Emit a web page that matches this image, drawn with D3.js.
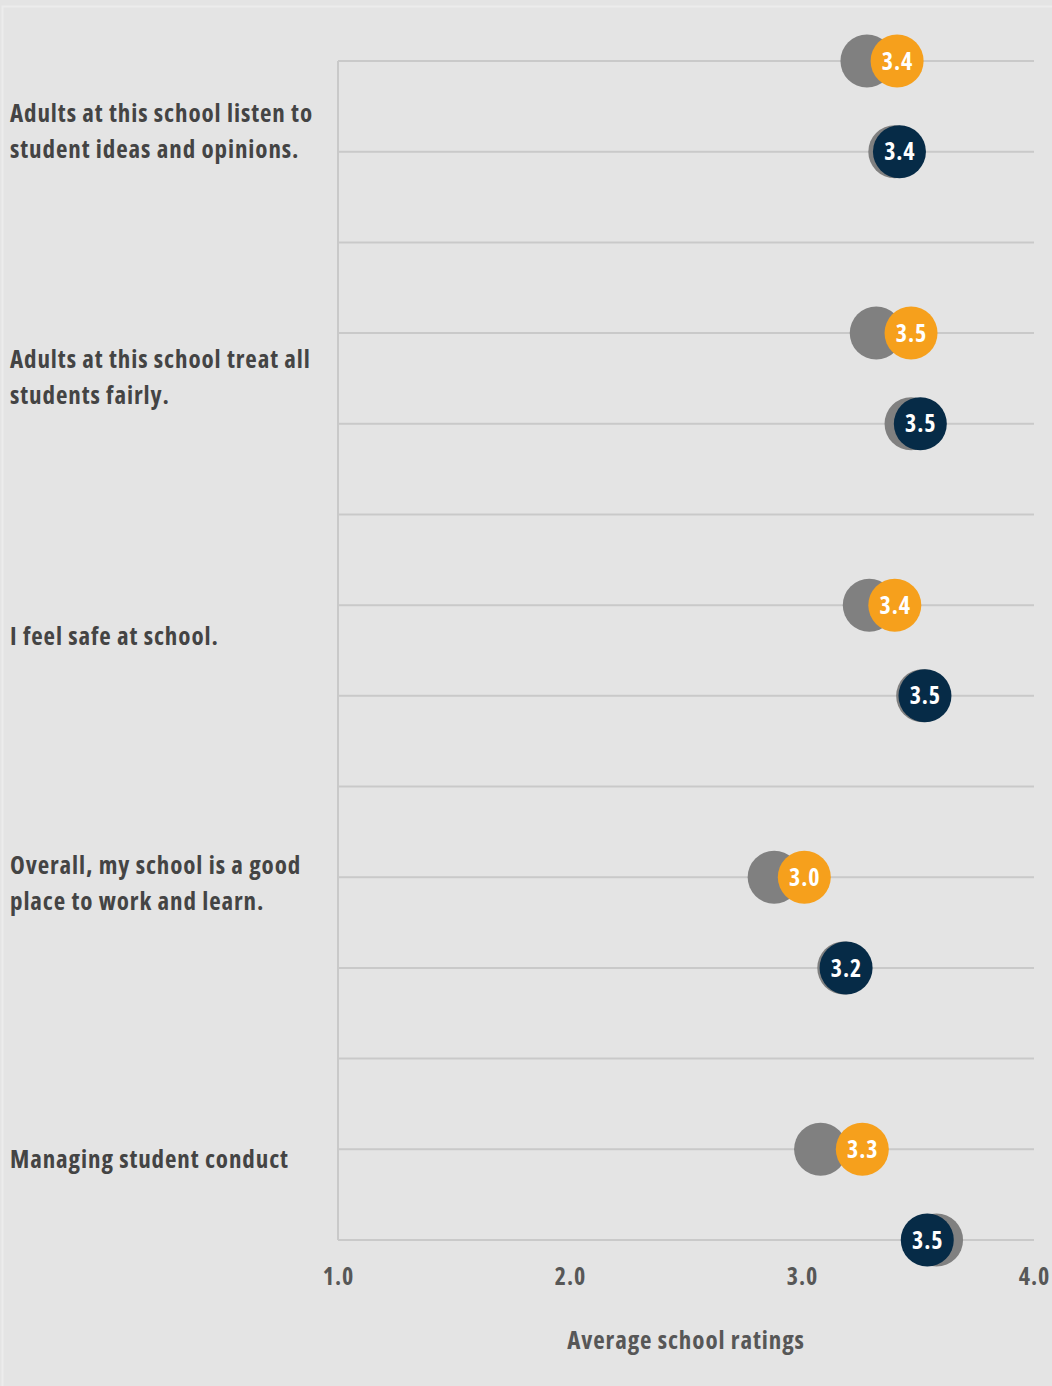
<!DOCTYPE html>
<html><head><meta charset="utf-8">
<script src="https://cdn.jsdelivr.net/npm/d3@7"></script>
<style>
html,body{margin:0;padding:0;background:#e4e4e4;}
svg{display:block;}
text{font-family:"Open Sans","DejaVu Sans Condensed",sans-serif;font-weight:700;font-stretch:75%;letter-spacing:0.9px;}
</style></head>
<body>
<svg id="chart" width="1052" height="1386"></svg>
<script>
const categories = [
  ["Adults at this school listen to", "student ideas and opinions."],
  ["Adults at this school treat all", "students fairly."],
  ["I feel safe at school."],
  ["Overall, my school is a good", "place to work and learn."],
  ["Managing student conduct"]
];
// orange row: value and its gray comparison
const orangeValues = [3.41, 3.47, 3.40, 3.01, 3.26];
const orangeGray   = [3.28, 3.32, 3.29, 2.88, 3.08];
const orangeLabels = ["3.4", "3.5", "3.4", "3.0", "3.3"];
// navy row: value and its gray comparison
const navyValues = [3.42, 3.51, 3.53, 3.19, 3.54];
const navyGray   = [3.40, 3.47, 3.52, 3.18, 3.58];
const navyLabels = ["3.4", "3.5", "3.5", "3.2", "3.5"];
const tickValues = [1, 2, 3, 4];
const tickLabels = ["1.0", "2.0", "3.0", "4.0"];
const axisTitle = "Average school ratings";

const svg = d3.select("#chart");
const W = 1052, H = 1386;
svg.append("rect").attr("x",0).attr("y",0).attr("width",W).attr("height",H).attr("fill","#e4e4e4");
svg.append("rect").attr("x",2.5).attr("y",6.5).attr("width",W).attr("height",H).attr("fill","none").attr("stroke","#ececec").attr("stroke-width",2);

const x = d3.scaleLinear().domain([1,4]).range([338,1034]);
const nRows = categories.length*3 - 1;
const y = d3.scalePoint().domain(d3.range(nRows)).range([61,1240]);

const COL_OR = "#f6a01c", COL_NV = "#062b47", COL_GR = "#808080";

// gridlines
svg.append("g").selectAll("line").data(d3.range(nRows)).join("line")
  .attr("x1", x(1)).attr("x2", x(4))
  .attr("y1", d=>y(d)).attr("y2", d=>y(d))
  .attr("stroke","#c9c9c9").attr("stroke-width",2);
svg.append("line").attr("x1",x(1)).attr("x2",x(1)).attr("y1",y(0)).attr("y2",y(nRows-1))
  .attr("stroke","#c9c9c9").attr("stroke-width",2);

// x axis (labels only)
const axis = d3.axisBottom(x).tickValues(tickValues).tickFormat((d,i)=>tickLabels[i]).tickSize(0).tickPadding(0);
const ax = svg.append("g").attr("transform","translate(0,1277)").call(axis);
ax.select(".domain").remove();
ax.selectAll("text").attr("dy","0.35em").attr("fill","#575757").attr("font-size",24)
  .style("font-family",'"Open Sans","DejaVu Sans Condensed",sans-serif');

svg.append("text").attr("x",(x(1)+x(4))/2).attr("y",1340).attr("dy","0.35em")
  .attr("text-anchor","middle").attr("font-size",25).attr("fill","#575757").text(axisTitle);

// category labels (first-line centre offset from the category's first row)
const labelOffsets = [52, 26, 31, -12, 10];
categories.forEach((lines,i)=>{
  const t = svg.append("text").attr("x",10).attr("y", y(i*3)+labelOffsets[i]).attr("fill","#444")
    .attr("font-size",25);
  lines.forEach((ln,j)=>t.append("tspan").attr("x",10).attr("dy", j===0? "0.35em":"36px").text(ln));
});

const R = 26.5;
const rows = categories.map((c,i)=>({i,
  o:{v:orangeValues[i], g:orangeGray[i], l:orangeLabels[i], row:i*3, c:COL_OR},
  n:{v:navyValues[i], g:navyGray[i], l:navyLabels[i], row:i*3+1, c:COL_NV}}));
const pts = rows.flatMap(r=>[r.o,r.n]);

const gG = svg.append("g");
gG.selectAll("circle").data(pts).join("circle")
  .attr("cx",d=>x(d.g)).attr("cy",d=>y(d.row)).attr("r",R).attr("fill",COL_GR);
const gC = svg.append("g");
gC.selectAll("circle").data(pts).join("circle")
  .attr("cx",d=>x(d.v)).attr("cy",d=>y(d.row)).attr("r",R).attr("fill",d=>d.c);
gC.selectAll("text").data(pts).join("text")
  .attr("x",d=>x(d.v)+0.4).attr("y",d=>y(d.row)).attr("dy","0.36em")
  .attr("text-anchor","middle").attr("fill","#fff").attr("font-size",24).text(d=>d.l);
</script>
</body></html>
